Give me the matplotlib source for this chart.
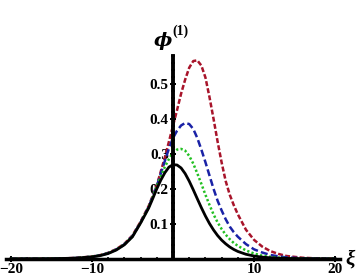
import matplotlib
matplotlib.use("Agg")
import matplotlib.pyplot as plt
from matplotlib.ticker import MultipleLocator, FixedLocator

xi = [-20, -18, -16, -14, -12, -10, -9, -8, -7, -6, -5, -4, -3, -2.5, -2, -1.5, -1, -0.5,
      0, 0.5, 1, 1.5, 2, 2.5, 3, 3.5, 4, 4.5, 5, 5.5, 6, 6.5, 7, 7.5, 8, 9, 10, 11, 12,
      13, 14, 16, 18, 20]

phi_black = [0.0, 0.0001, 0.0002, 0.0007, 0.002, 0.0055, 0.009, 0.015, 0.025, 0.040,
             0.063, 0.102, 0.145, 0.172, 0.200, 0.225, 0.246, 0.262, 0.269, 0.268,
             0.2595, 0.2434, 0.2219, 0.1972, 0.1714, 0.146, 0.1222, 0.1008, 0.0824,
             0.0665, 0.0534, 0.0428, 0.0338, 0.0267, 0.021, 0.0129, 0.0079, 0.0048,
             0.0029, 0.0018, 0.0011, 0.0004, 0.00015, 0.00005]

phi_green = [0.0, 0.0001, 0.0002, 0.0007, 0.002, 0.006, 0.0095, 0.016, 0.026, 0.041,
             0.064, 0.103, 0.147, 0.176, 0.207, 0.236, 0.263, 0.285, 0.303, 0.312,
             0.314, 0.309, 0.294, 0.272, 0.244, 0.214, 0.183, 0.154, 0.127, 0.104,
             0.085, 0.069, 0.056, 0.045, 0.037, 0.024, 0.015, 0.009, 0.0055, 0.0033,
             0.002, 0.0007, 0.0002, 0.0001]

phi_blue = [0.0, 0.0001, 0.0002, 0.0008, 0.0022, 0.006, 0.0097, 0.0162, 0.0265, 0.0415,
            0.065, 0.104, 0.148, 0.178, 0.208, 0.244, 0.280, 0.315, 0.345, 0.366,
            0.381, 0.388, 0.385, 0.371, 0.345, 0.312, 0.276, 0.238, 0.200, 0.166,
            0.138, 0.113, 0.092, 0.076, 0.063, 0.042, 0.027, 0.018, 0.011, 0.007,
            0.004, 0.0015, 0.0005, 0.0002]

phi_red = [0.0, 0.0001, 0.0003, 0.0009, 0.0025, 0.0065, 0.0105, 0.0172, 0.0275, 0.043,
           0.067, 0.106, 0.151, 0.180, 0.210, 0.250, 0.290, 0.335, 0.380, 0.425,
           0.472, 0.512, 0.546, 0.565, 0.567, 0.552, 0.518, 0.462, 0.400, 0.335,
           0.275, 0.222, 0.183, 0.153, 0.127, 0.083, 0.054, 0.035, 0.022, 0.014,
           0.008, 0.003, 0.001, 0.0003]

x_major = [-20, -10, 10, 20]
y_major = [0.1, 0.2, 0.3, 0.4, 0.5]

fig = plt.figure(figsize=(3.6, 2.79), dpi=100)
ax = fig.add_axes([6 / 360, 20.2 / 279, 334 / 360, 203 / 279])

lw = 1.8
ax.plot(xi, phi_red, color="#a8142a", lw=lw, dashes=(2.0, 0.9))
ax.plot(xi, phi_blue, color="#1a22a6", lw=lw, dashes=(2.8, 1.3))
ax.plot(xi, phi_green, color="#22c022", lw=lw, dashes=(0.9, 0.9))
ax.plot(xi, phi_black, color="black", lw=lw + 0.2)

ax.set_xlim(-20.6, 20.6)
ax.set_ylim(0, 0.58)

for s in ["top", "right"]:
    ax.spines[s].set_visible(False)
ax.spines["left"].set_position(("data", 0))
ax.spines["bottom"].set_position(("data", 0))
ax.spines["left"].set_linewidth(2.8)
ax.spines["bottom"].set_linewidth(2.5)

ax.xaxis.set_major_locator(FixedLocator(x_major))
ax.xaxis.set_minor_locator(MultipleLocator(2))
ax.yaxis.set_major_locator(FixedLocator(y_major))
ax.yaxis.set_minor_locator(MultipleLocator(0.02))
ax.set_xticklabels([str(v).replace("-", "\u2212") for v in x_major])
ax.set_yticklabels([f"{v:.1f}" for v in y_major])

ax.tick_params(axis="both", which="major", direction="inout", length=5, width=1.4)
ax.tick_params(axis="both", which="minor", direction="inout", length=3.2, width=1.2)
ax.tick_params(axis="x", which="major", pad=0.5)
ax.tick_params(axis="y", which="major", pad=0.5)

for lab in ax.get_xticklabels() + ax.get_yticklabels():
    lab.set_fontfamily(["Liberation Serif", "DejaVu Serif"])
    lab.set_fontweight("bold")
    lab.set_fontsize(11)

fig.text(163 / 360, 1 - 41 / 279, "\u03d5", fontsize=14, fontweight="bold", fontstyle="italic",
         family=["DejaVu Serif"], ha="center", va="center")
fig.text(180 / 360, 1 - 31 / 279, "(1)", fontsize=10, fontweight="bold",
         family=["Liberation Serif", "DejaVu Serif"], ha="center", va="center")
fig.text(350.5 / 360, 1 - 260 / 279, "\u03be", fontsize=15, fontstyle="italic", fontweight="bold",
         family=["Liberation Serif", "DejaVu Serif"], ha="center", va="center")

fig.savefig("out.png", dpi=100)
